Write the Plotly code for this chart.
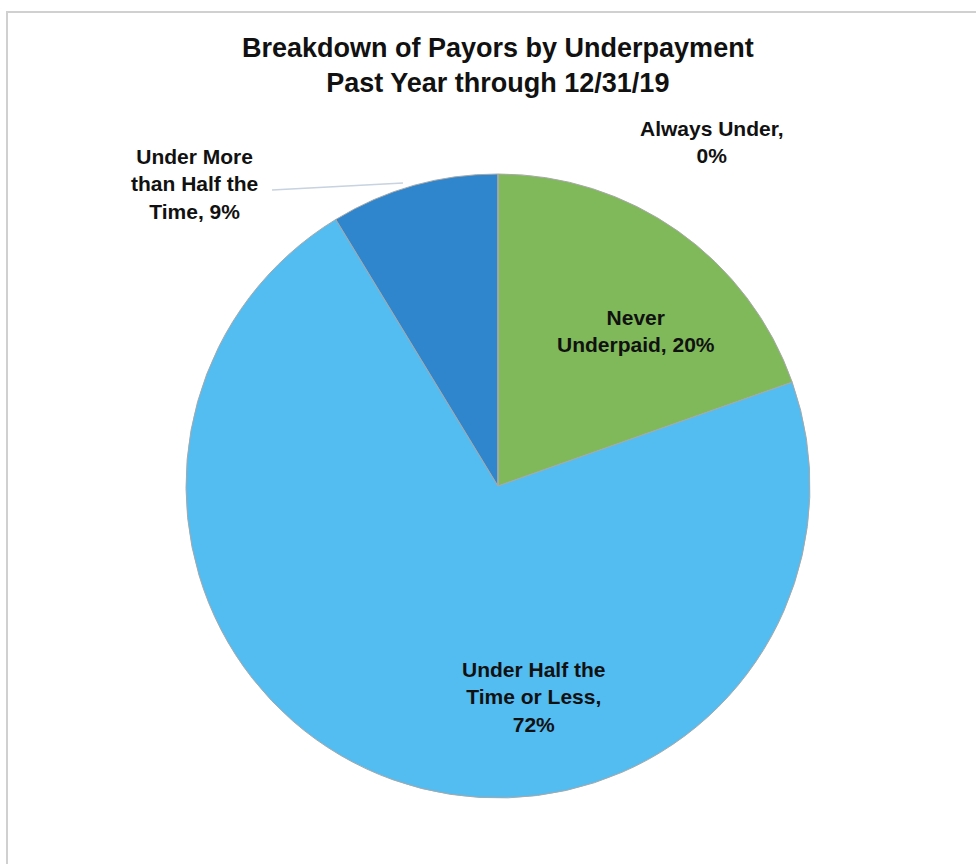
import plotly.graph_objects as go

categories = ["Never Underpaid", "Under Half the Time or Less", "Under More than Half the Time", "Always Under"]
values = [19.6, 71.7, 8.7, 0.0]
display_pct = ["20%", "72%", "9%", "0%"]
colors = ["#7FB95A", "#53BDF2", "#2F86CC", "#A5A5A5"]

W, H = 976, 864
cx, cy, R = 498, 486, 312

fig = go.Figure(go.Pie(
    labels=categories,
    values=values,
    sort=False,
    direction="clockwise",
    rotation=0,
    textinfo="none",
    hoverinfo="label+percent",
    marker=dict(colors=colors, line=dict(color="#A8A8A8", width=1)),
    domain=dict(x=[(cx - R) / W, (cx + R) / W], y=[1 - (cy + R) / H, 1 - (cy - R) / H]),
    showlegend=False,
))

font = dict(family="Liberation Sans, Arial, sans-serif", size=21, color="#111111")

def px(x, y):
    return x / W, 1 - y / H

labels_txt = [
    ("<b>Never<br>Underpaid, " + display_pct[0] + "</b>", 636, 331),
    ("<b>Under Half the<br>Time or Less,<br>" + display_pct[1] + "</b>", 534, 697),
    ("<b>Under More<br>than Half the<br>Time, " + display_pct[2] + "</b>", 194, 184),
    ("<b>Always Under,<br>" + display_pct[3] + "</b>", 712, 142),
]
annotations = []
for t, x, y in labels_txt:
    ax, ay = px(x, y)
    annotations.append(dict(text=t, x=ax, y=ay, xref="paper", yref="paper",
                            showarrow=False, font=font, align="center",
                            xanchor="center", yanchor="middle"))

annotations.append(dict(text="<b>Breakdown of Payors by Underpayment<br>Past Year through 12/31/19</b>",
                        x=px(498, 66)[0], y=px(498, 66)[1], xref="paper", yref="paper",
                        showarrow=False, align="center", xanchor="center", yanchor="middle",
                        font=dict(family="Liberation Sans, Arial, sans-serif", size=27, color="#111111")))

x0, y0 = px(272, 190)
x1, y1 = px(403, 183)
shapes = [
    dict(type="line", xref="paper", yref="paper", x0=x0, y0=y0, x1=x1, y1=y1,
         line=dict(color="#C8D2E0", width=1.5)),
    dict(type="rect", xref="paper", yref="paper", x0=7 / W, y0=-0.05, x1=1.05, y1=1 - 12 / H,
         line=dict(color="#D0D0D0", width=2), fillcolor="rgba(0,0,0,0)"),
]

fig.update_layout(
    width=W, height=H,
    margin=dict(l=0, r=0, t=0, b=0),
    paper_bgcolor="white",
    plot_bgcolor="white",
    annotations=annotations,
    shapes=shapes,
)

fig.write_html("out.html")
